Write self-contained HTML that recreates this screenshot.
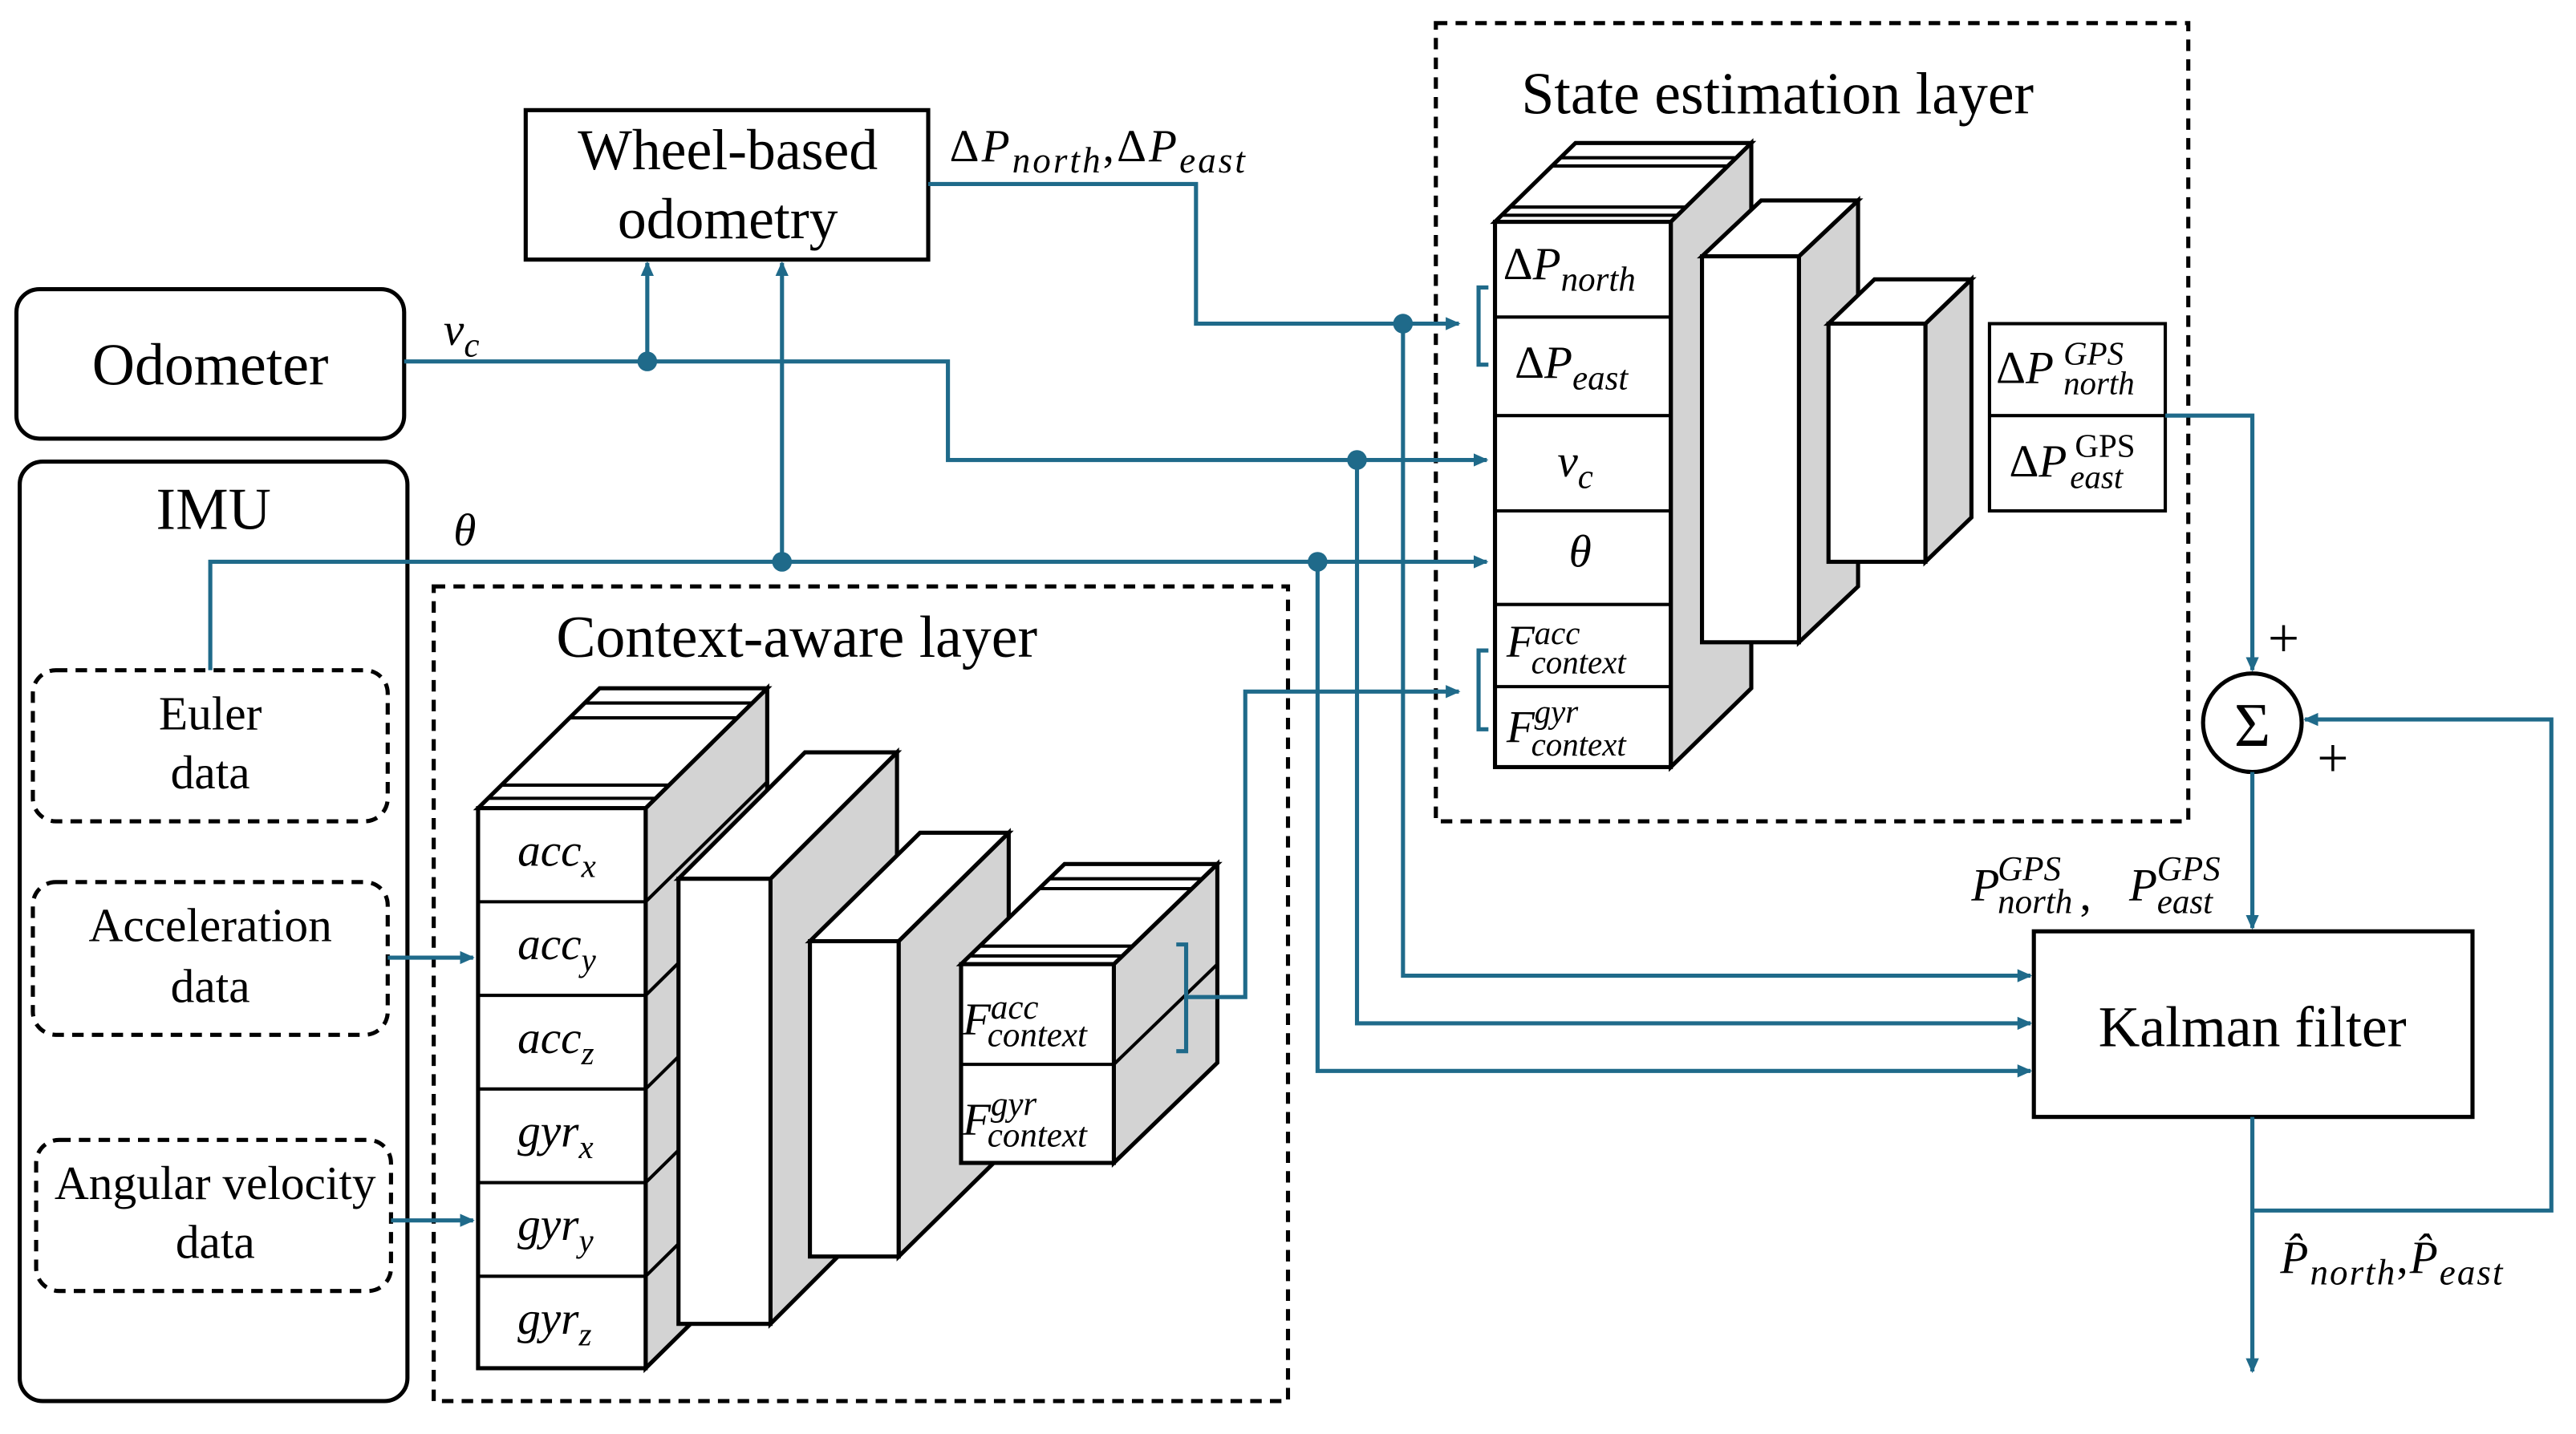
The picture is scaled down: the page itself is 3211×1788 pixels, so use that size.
<!DOCTYPE html>
<html><head><meta charset="utf-8">
<style>
html,body{margin:0;padding:0;background:#fff;}
svg{display:block;}
text{font-family:"Liberation Serif","DejaVu Serif",serif;fill:#000;}
.m{font-style:italic;}
</style></head>
<body>
<svg width="3211" height="1788" viewBox="0 0 1568 873" xmlns="http://www.w3.org/2000/svg">
<defs>
<marker id="a" markerWidth="10" markerHeight="10" refX="8" refY="5" orient="auto" markerUnits="userSpaceOnUse">
<path d="M0,1 L9,5 L0,9 Z" fill="#1f6a8a"/></marker>
</defs>
<rect width="1568" height="873" fill="#fff"/>

<rect x="320" y="67" width="245" height="91" fill="#fff" stroke="#000" stroke-width="2.5"/>
<text x="443" y="103" font-size="35" text-anchor="middle">Wheel-based</text>
<text x="443" y="145" font-size="35" text-anchor="middle">odometry</text>
<rect x="10" y="176" width="236" height="91" rx="14" fill="#fff" stroke="#000" stroke-width="2.5"/>
<text x="128" y="234" font-size="36" text-anchor="middle">Odometer</text>
<rect x="12" y="281" width="236" height="572" rx="14" fill="#fff" stroke="#000" stroke-width="2.5"/>
<text x="130" y="322" font-size="36" text-anchor="middle">IMU</text>
<g fill="none" stroke="#000" stroke-width="2.5" stroke-dasharray="7,5">
<rect x="20" y="408" width="216" height="92" rx="14"/>
<rect x="20" y="537" width="216" height="93" rx="14"/>
<rect x="22" y="694" width="216" height="92" rx="14"/>
<rect x="264" y="357" width="520" height="496"/>
<rect x="874" y="14" width="458" height="486"/>
</g>
<text x="128" y="444" font-size="29" text-anchor="middle">Euler</text>
<text x="128" y="480" font-size="29" text-anchor="middle">data</text>
<text x="128" y="573" font-size="29" text-anchor="middle">Acceleration</text>
<text x="128" y="610" font-size="29" text-anchor="middle">data</text>
<text x="131" y="730" font-size="29" text-anchor="middle">Angular velocity</text>
<text x="131" y="766" font-size="29" text-anchor="middle">data</text>
<text x="485" y="400" font-size="36" text-anchor="middle">Context-aware layer</text>
<text x="1082" y="69" font-size="36" text-anchor="middle">State estimation layer</text>

<g stroke="#000" stroke-width="2.5" stroke-linejoin="miter">
<polygon points="393,492 467,419 467,760 393,833" fill="#d3d3d3"/>
<polygon points="291,492 365,419 467,419 393,492" fill="#fff"/>
<rect x="291" y="492" width="102" height="341" fill="#fff"/>
<g stroke-width="2">
<line x1="297" y1="486" x2="399" y2="486"/><line x1="305" y1="478" x2="407" y2="478"/>
<line x1="347" y1="437" x2="449" y2="437"/><line x1="356" y1="428" x2="458" y2="428"/>
<line x1="291" y1="549" x2="393" y2="549"/><line x1="291" y1="606" x2="393" y2="606"/>
<line x1="291" y1="663" x2="393" y2="663"/><line x1="291" y1="720" x2="393" y2="720"/>
<line x1="291" y1="777" x2="393" y2="777"/>
<line x1="393" y1="549" x2="467" y2="476"/><line x1="393" y1="606" x2="467" y2="533"/>
<line x1="393" y1="663" x2="467" y2="590"/><line x1="393" y1="720" x2="467" y2="647"/>
<line x1="393" y1="777" x2="467" y2="704"/>
</g>
<polygon points="469,535 546,458 546,729 469,806" fill="#d3d3d3"/>
<polygon points="413,535 490,458 546,458 469,535" fill="#fff"/>
<rect x="413" y="535" width="56" height="271" fill="#fff"/>
<polygon points="547,573 614,507 614,699 547,765" fill="#d3d3d3"/>
<polygon points="493,573 560,507 614,507 547,573" fill="#fff"/>
<rect x="493" y="573" width="54" height="192" fill="#fff"/>
<polygon points="678,587 741,526 741,647 678,708" fill="#d3d3d3"/>
<polygon points="585,587 648,526 741,526 678,587" fill="#fff"/>
<rect x="585" y="587" width="93" height="121" fill="#fff"/>
<g stroke-width="2">
<line x1="590" y1="582" x2="683" y2="582"/><line x1="596" y1="576" x2="689" y2="576"/>
<line x1="632" y1="541" x2="725" y2="541"/><line x1="638" y1="535" x2="731" y2="535"/>
<line x1="585" y1="648" x2="678" y2="648"/><line x1="678" y1="648" x2="741" y2="587"/>
</g>
<polygon points="1017,135 1066,87 1066,419 1017,467" fill="#d3d3d3"/>
<polygon points="910,135 959,87 1066,87 1017,135" fill="#fff"/>
<rect x="910" y="135" width="107" height="332" fill="#fff"/>
<g stroke-width="2">
<line x1="914" y1="131" x2="1021" y2="131"/><line x1="919" y1="126" x2="1026" y2="126"/>
<line x1="945" y1="101" x2="1052" y2="101"/><line x1="950" y1="96" x2="1057" y2="96"/>
<line x1="910" y1="193" x2="1017" y2="193"/><line x1="910" y1="253" x2="1017" y2="253"/>
<line x1="910" y1="311" x2="1017" y2="311"/><line x1="910" y1="368" x2="1017" y2="368"/>
<line x1="910" y1="418" x2="1017" y2="418"/>
</g>
<polygon points="1095,156 1131,122 1131,357 1095,391" fill="#d3d3d3"/>
<polygon points="1036,156 1072,122 1131,122 1095,156" fill="#fff"/>
<rect x="1036" y="156" width="59" height="235" fill="#fff"/>
<polygon points="1172,197 1200,170 1200,315 1172,342" fill="#d3d3d3"/>
<polygon points="1113,197 1141,170 1200,170 1172,197" fill="#fff"/>
<rect x="1113" y="197" width="59" height="145" fill="#fff"/>
</g>
<rect x="1211" y="197" width="107" height="114" fill="#fff" stroke="#000" stroke-width="2"/>
<line x1="1211" y1="253" x2="1318" y2="253" stroke="#000" stroke-width="2"/>

<g class="m" font-size="28">
<text x="315" y="527">acc<tspan font-size="20" dy="7">x</tspan></text>
<text x="315" y="584">acc<tspan font-size="20" dy="7">y</tspan></text>
<text x="315" y="641">acc<tspan font-size="20" dy="7">z</tspan></text>
<text x="315" y="698">gyr<tspan font-size="20" dy="7">x</tspan></text>
<text x="315" y="755">gyr<tspan font-size="20" dy="7">y</tspan></text>
<text x="315" y="812">gyr<tspan font-size="20" dy="7">z</tspan></text>
<text x="586" y="630">F<tspan font-size="21" x="603" y="620">acc</tspan><tspan font-size="21" x="601" y="637">context</tspan></text>
<text x="586" y="691">F<tspan font-size="21" x="603" y="679">gyr</tspan><tspan font-size="21" x="601" y="698">context</tspan></text>
<text x="915" y="170"><tspan font-style="normal">Δ</tspan>P<tspan font-size="21" dy="7">north</tspan></text>
<text x="922" y="230"><tspan font-style="normal">Δ</tspan>P<tspan font-size="21" dy="7">east</tspan></text>
<text x="948" y="290">v<tspan font-size="21" dy="7">c</tspan></text>
<text x="955" y="345">θ</text>
<text x="917" y="400">F<tspan font-size="20" x="934" y="392">acc</tspan><tspan font-size="20" x="932" y="410">context</tspan></text>
<text x="917" y="452">F<tspan font-size="20" x="934" y="440">gyr</tspan><tspan font-size="20" x="932" y="460">context</tspan></text>
<text x="1215" y="233"><tspan font-style="normal">Δ</tspan>P<tspan font-size="20" x="1256" y="222">GPS</tspan><tspan font-size="20" x="1256" y="240">north</tspan></text>
<text x="1223" y="290"><tspan font-style="normal">Δ</tspan>P<tspan font-size="20" x="1263" y="278" font-style="normal">GPS</tspan><tspan font-size="20" x="1260" y="297">east</tspan></text>
<text x="578" y="98" letter-spacing="1.5"><tspan font-style="normal">Δ</tspan>P<tspan font-size="22" dy="7">north</tspan><tspan dy="-7" font-style="normal">,</tspan><tspan font-style="normal">Δ</tspan>P<tspan font-size="22" dy="7">east</tspan></text>
<text x="270" y="210">v<tspan font-size="21" dy="7">c</tspan></text>
<text x="276" y="332">θ</text>
<text x="1200" y="548">P<tspan font-size="21" x="1216" y="536">GPS</tspan><tspan font-size="21" x="1216" y="556">north</tspan><tspan x="1266" y="554" font-style="normal">,</tspan><tspan x="1296" y="548">P</tspan><tspan font-size="21" x="1313" y="536">GPS</tspan><tspan font-size="21" x="1313" y="556">east</tspan></text>
<text x="1388" y="775" letter-spacing="1"><tspan>P̂</tspan><tspan font-size="22" dy="7">north</tspan><tspan dy="-7" font-style="normal">,</tspan>P̂<tspan font-size="22" dy="7">east</tspan></text>
</g>

<rect x="1238" y="567" width="267" height="113" fill="#fff" stroke="#000" stroke-width="2.5"/>
<text x="1371" y="637" font-size="35" text-anchor="middle">Kalman filter</text>
<circle cx="1371" cy="440" r="30" fill="#fff" stroke="#000" stroke-width="2.5"/>
<text x="1371" y="454" font-size="38" text-anchor="middle">Σ</text>
<text x="1390" y="400" font-size="34" text-anchor="middle">+</text>
<text x="1420" y="473" font-size="34" text-anchor="middle">+</text>

<g fill="none" stroke="#1f6a8a" stroke-width="2.5">
<path d="M246,220 H577 V280 H905" marker-end="url(#a)"/>
<path d="M394,220 V160" marker-end="url(#a)"/>
<path d="M565,112 H728 V197 H888" marker-end="url(#a)"/>
<path d="M128,408 V342 H905" marker-end="url(#a)"/>
<path d="M476,342 V160" marker-end="url(#a)"/>
<path d="M854,197 V594 H1236" marker-end="url(#a)"/>
<path d="M826,280 V623 H1236" marker-end="url(#a)"/>
<path d="M802,342 V652 H1236" marker-end="url(#a)"/>
<path d="M722,607 H758 V421 H888" marker-end="url(#a)"/>
<path d="M236,583 H288" marker-end="url(#a)"/>
<path d="M238,743 H288" marker-end="url(#a)"/>
<path d="M1318,253 H1371 V408" marker-end="url(#a)"/>
<path d="M1371,470 V565" marker-end="url(#a)"/>
<path d="M1371,680 V835" marker-end="url(#a)"/>
<path d="M1371,737 H1553 V438 H1403" marker-end="url(#a)"/>
<path d="M716,575 H722 V640 H716"/>
<path d="M906,175 H900 V222 H906"/>
<path d="M906,396 H900 V444 H906"/>
</g>
<g fill="#1f6a8a">
<circle cx="394" cy="220" r="6"/><circle cx="476" cy="342" r="6"/>
<circle cx="854" cy="197" r="6"/><circle cx="826" cy="280" r="6"/>
<circle cx="802" cy="342" r="6"/>
</g>
</svg>
</body></html>
